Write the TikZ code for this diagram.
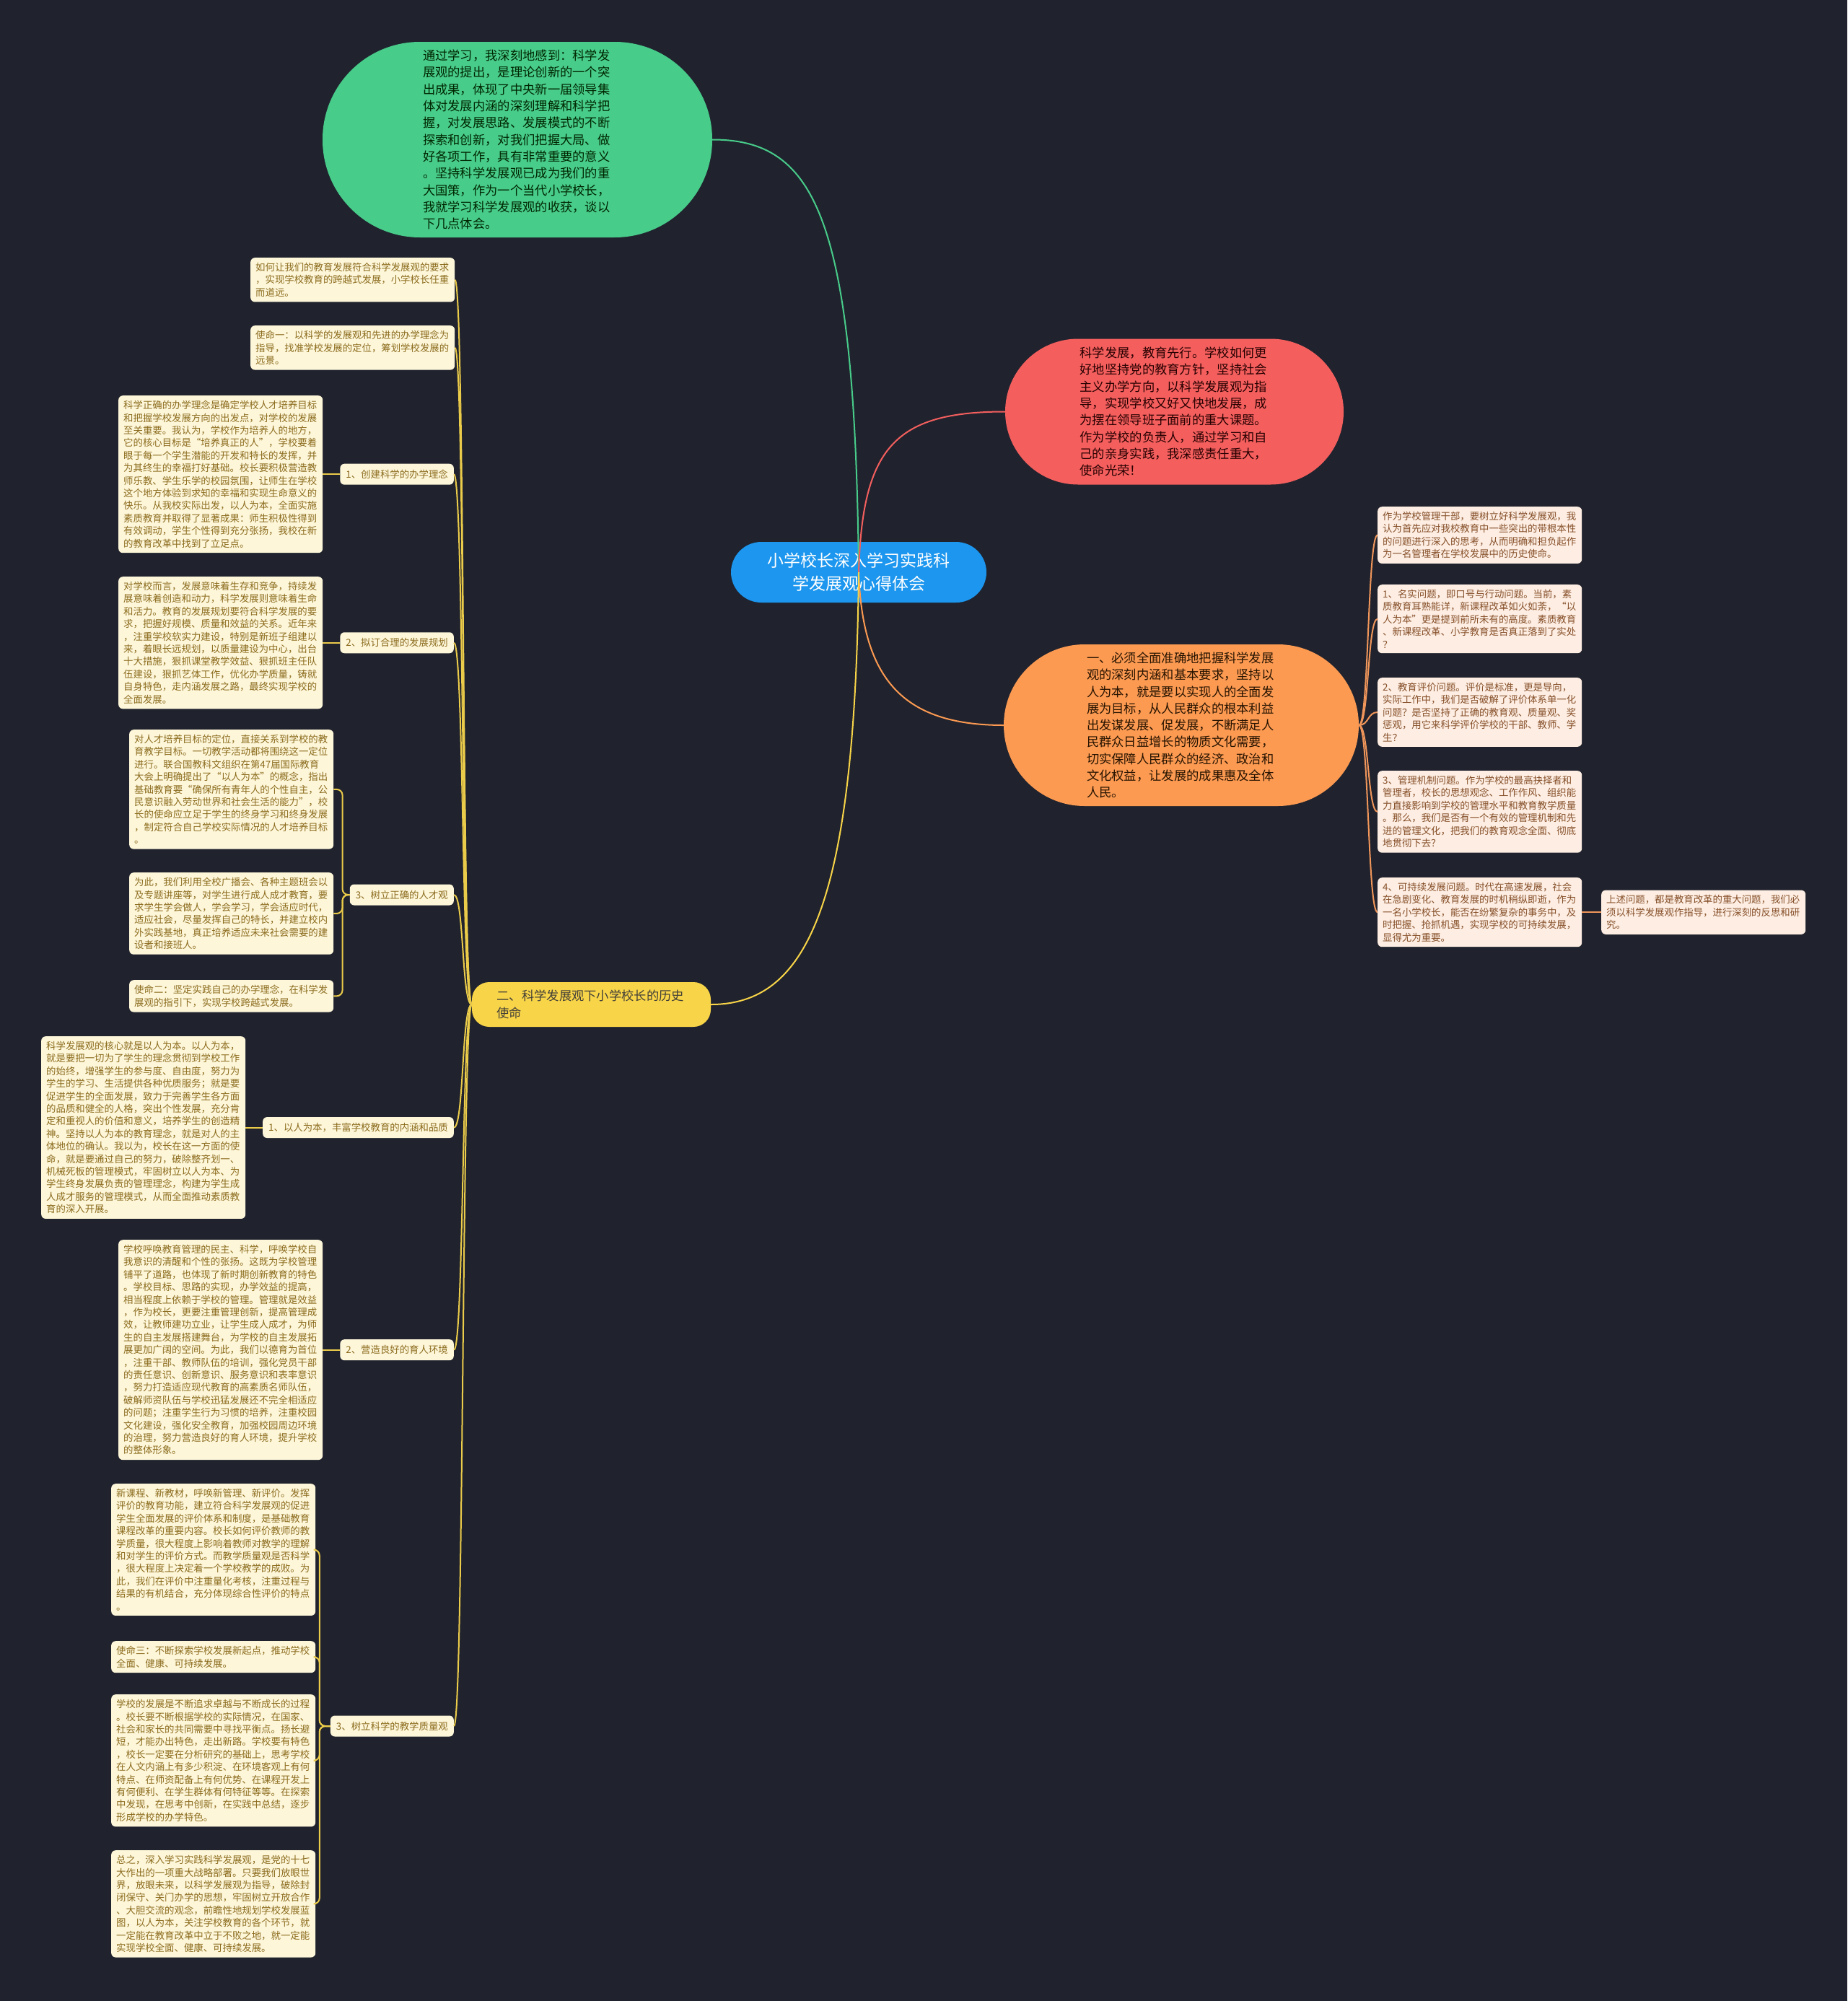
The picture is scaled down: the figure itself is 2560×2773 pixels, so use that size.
\documentclass[tikz,border=0pt]{standalone}
\usepackage{fontspec}
\setmainfont{Noto Sans CJK SC}
\newcommand\myfs[2]{\fontsize{#1pt}{#2pt}\selectfont}
\definecolor{bg}{HTML}{20232E}
\definecolor{cgreen}{HTML}{48CC8A}
\definecolor{cred}{HTML}{F45F5E}
\definecolor{corange}{HTML}{FC9A52}
\definecolor{cblue}{HTML}{1C96EE}
\definecolor{cyellow}{HTML}{F8D448}
\definecolor{lfill}{HTML}{FDF6D9}
\definecolor{ltext}{HTML}{8C6C1E}
\definecolor{rfill}{HTML}{FDEDE2}
\definecolor{rtext}{HTML}{86502A}
\definecolor{lline}{HTML}{EBCB4A}
\definecolor{rline}{HTML}{F0965A}
\tikzset{
  pill/.style={inner sep=0pt, text width=262pt, align=left, font=\myfs{17.3}{23.3}},
  lbox/.style={fill=lfill, rounded corners=6pt, text=ltext, inner xsep=7pt, inner ysep=7pt,
    text width=269pt, align=left, font=\myfs{13.4}{17.4}, anchor=north west},
  rbox/.style={lbox, fill=rfill, text=rtext},
  labbox/.style={fill=lfill, rounded corners=6pt, text=ltext, inner xsep=8pt, inner ysep=0pt,
    minimum height=29pt, font=\myfs{13.4}{17.4}, anchor=east},
  mainline/.style={line width=2pt},
  yl/.style={draw=lline, line width=2pt},
  rl/.style={draw=rline, line width=2pt},
}
\begin{document}
\begin{tikzpicture}[x=1pt,y=-1pt]
\useasboundingbox (0,0) rectangle (2560,2773);
\fill[bg] (0,0) rectangle (2560,2773);

% main pills
\node[pill, fill=cgreen, text=black!85!green, rounded corners=135pt, minimum width=540pt, minimum height=271pt] (green) at (717,193.5) {通过学习，我深刻地感到：科学发\\展观的提出，是理论创新的一个突\\出成果，体现了中央新一届领导集\\体对发展内涵的深刻理解和科学把\\握，对发展思路、发展模式的不断\\探索和创新，对我们把握大局、做\\好各项工作，具有非常重要的意义\\。坚持科学发展观已成为我们的重\\大国策，作为一个当代小学校长，\\我就学习科学发展观的收获，谈以\\下几点体会。};

\node[pill, fill=cred, text=black!85!red, rounded corners=101pt, minimum width=469pt, minimum height=202pt] (red) at (1627.5,570.5) {科学发展，教育先行。学校如何更\\好地坚持党的教育方针，坚持社会\\主义办学方向，以科学发展观为指\\导，实现学校又好又快地发展，成\\为摆在领导班子面前的重大课题。\\作为学校的负责人，通过学习和自\\己的亲身实践，我深感责任重大，\\使命光荣！};

\node[pill, fill=corange, text=black!85!orange, rounded corners=112pt, minimum width=492pt, minimum height=224pt] (orange) at (1637,1005) {一、必须全面准确地把握科学发展\\观的深刻内涵和基本要求，坚持以\\人为本，就是要以实现人的全面发\\展为目标，从人民群众的根本利益\\出发谋发展、促发展，不断满足人\\民群众日益增长的物质文化需要，\\切实保障人民群众的经济、政治和\\文化权益，让发展的成果惠及全体\\人民。};

\node[pill, fill=cyellow, text=black!85!yellow, rounded corners=24pt, minimum width=331pt, minimum height=62pt] (two) at (819.5,1392) {二、科学发展观下小学校长的历史\\使命};

\node[fill=cblue, text=white, rounded corners=42pt, minimum width=354pt, minimum height=84pt, inner sep=0pt, align=center, font=\myfs{23}{32}] (center) at (1190,793) {小学校长深入学习实践科\\学发展观心得体会};

% right boxes
\node[rbox] (R1) at (1909,702) {作为学校管理干部，要树立好科学发展观，我\\认为首先应对我校教育中一些突出的带根本性\\的问题进行深入的思考，从而明确和担负起作\\为一名管理者在学校发展中的历史使命。};
\node[rbox] (R2) at (1909,810) {1、名实问题，即口号与行动问题。当前，素\\质教育耳熟能详，新课程改革如火如荼，“以\\人为本”更是提到前所未有的高度。素质教育\\、新课程改革、小学教育是否真正落到了实处\\？};
\node[rbox] (R3) at (1909,939) {2、教育评价问题。评价是标准，更是导向，\\实际工作中，我们是否破解了评价体系单一化\\问题？是否坚持了正确的教育观、质量观、奖\\惩观，用它来科学评价学校的干部、教师、学\\生？};
\node[rbox] (R4) at (1909,1068) {3、管理机制问题。作为学校的最高抉择者和\\管理者，校长的思想观念、工作作风、组织能\\力直接影响到学校的管理水平和教育教学质量\\。那么，我们是否有一个有效的管理机制和先\\进的管理文化，把我们的教育观念全面、彻底\\地贯彻下去？};
\node[rbox] (R5) at (1909,1216) {4、可持续发展问题。时代在高速发展，社会\\在急剧变化、教育发展的时机稍纵即逝，作为\\一名小学校长，能否在纷繁复杂的事务中，及\\时把握、抢抓机遇，实现学校的可持续发展，\\显得尤为重要。};
\coordinate (xrr) at (2219,0);
\node[rbox, anchor=west] (R6) at (xrr |- R5.east) {上述问题，都是教育改革的重大问题，我们必\\须以科学发展观作指导，进行深刻的反思和研\\究。};

% left boxes
\node[lbox] (L0) at (347,357) {如何让我们的教育发展符合科学发展观的要求\\，实现学校教育的跨越式发展，小学校长任重\\而道远。};
\node[lbox] (L1) at (347,451) {使命一：以科学的发展观和先进的办学理念为\\指导，找准学校发展的定位，筹划学校发展的\\远景。};
\node[lbox] (L2) at (164,548) {科学正确的办学理念是确定学校人才培养目标\\和把握学校发展方向的出发点，对学校的发展\\至关重要。我认为，学校作为培养人的地方，\\它的核心目标是“培养真正的人”，学校要着\\眼于每一个学生潜能的开发和特长的发挥，并\\为其终生的幸福打好基础。校长要积极营造教\\师乐教、学生乐学的校园氛围，让师生在学校\\这个地方体验到求知的幸福和实现生命意义的\\快乐。从我校实际出发，以人为本，全面实施\\素质教育并取得了显著成果：师生积极性得到\\有效调动，学生个性得到充分张扬，我校在新\\的教育改革中找到了立足点。};
\node[lbox] (L3) at (164,799) {对学校而言，发展意味着生存和竞争，持续发\\展意味着创造和动力，科学发展则意味着生命\\和活力。教育的发展规划要符合科学发展的要\\求，把握好规模、质量和效益的关系。近年来\\，注重学校软实力建设，特别是新班子组建以\\来，着眼长远规划，以质量建设为中心，出台\\十大措施，狠抓课堂教学效益、狠抓班主任队\\伍建设，狠抓艺体工作，优化办学质量，铸就\\自身特色，走内涵发展之路，最终实现学校的\\全面发展。};
\node[lbox] (L4) at (179,1011) {对人才培养目标的定位，直接关系到学校的教\\育教学目标。一切教学活动都将围绕这一定位\\进行。联合国教科文组织在第47届国际教育\\大会上明确提出了“以人为本”的概念，指出\\基础教育要“确保所有青年人的个性自主，公\\民意识融入劳动世界和社会生活的能力”，校\\长的使命应立足于学生的终身学习和终身发展\\，制定符合自己学校实际情况的人才培养目标\\。};
\node[lbox] (L5) at (179,1209) {为此，我们利用全校广播会、各种主题班会以\\及专题讲座等，对学生进行成人成才教育，要\\求学生学会做人，学会学习，学会适应时代，\\适应社会，尽量发挥自己的特长，并建立校内\\外实践基地，真正培养适应未来社会需要的建\\设者和接班人。};
\node[lbox] (L6) at (179,1358) {使命二：坚定实践自己的办学理念，在科学发\\展观的指引下，实现学校跨越式发展。};
\node[lbox] (L7) at (57,1436) {科学发展观的核心就是以人为本。以人为本，\\就是要把一切为了学生的理念贯彻到学校工作\\的始终，增强学生的参与度、自由度，努力为\\学生的学习、生活提供各种优质服务；就是要\\促进学生的全面发展，致力于完善学生各方面\\的品质和健全的人格，突出个性发展，充分肯\\定和重视人的价值和意义，培养学生的创造精\\神。坚持以人为本的教育理念，就是对人的主\\体地位的确认。我以为，校长在这一方面的使\\命，就是要通过自己的努力，破除整齐划一、\\机械死板的管理模式，牢固树立以人为本、为\\学生终身发展负责的管理理念，构建为学生成\\人成才服务的管理模式，从而全面推动素质教\\育的深入开展。};
\node[lbox] (L8) at (164,1718) {学校呼唤教育管理的民主、科学，呼唤学校自\\我意识的清醒和个性的张扬。这既为学校管理\\铺平了道路，也体现了新时期创新教育的特色\\。学校目标、思路的实现，办学效益的提高，\\相当程度上依赖于学校的管理。管理就是效益\\，作为校长，更要注重管理创新，提高管理成\\效，让教师建功立业，让学生成人成才，为师\\生的自主发展搭建舞台，为学校的自主发展拓\\展更加广阔的空间。为此，我们以德育为首位\\，注重干部、教师队伍的培训，强化党员干部\\的责任意识、创新意识、服务意识和表率意识\\，努力打造适应现代教育的高素质名师队伍，\\破解师资队伍与学校迅猛发展还不完全相适应\\的问题；注重学生行为习惯的培养，注重校园\\文化建设，强化安全教育，加强校园周边环境\\的治理，努力营造良好的育人环境，提升学校\\的整体形象。};
\node[lbox] (L9) at (154,2056) {新课程、新教材，呼唤新管理、新评价。发挥\\评价的教育功能，建立符合科学发展观的促进\\学生全面发展的评价体系和制度，是基础教育\\课程改革的重要内容。校长如何评价教师的教\\学质量，很大程度上影响着教师对教学的理解\\和对学生的评价方式。而教学质量观是否科学\\，很大程度上决定着一个学校教学的成败。为\\此，我们在评价中注重量化考核，注重过程与\\结果的有机结合，充分体现综合性评价的特点\\。};
\node[lbox] (L10) at (154,2274) {使命三：不断探索学校发展新起点，推动学校\\全面、健康、可持续发展。};
\node[lbox] (L11) at (154,2348) {学校的发展是不断追求卓越与不断成长的过程\\。校长要不断根据学校的实际情况，在国家、\\社会和家长的共同需要中寻找平衡点。扬长避\\短，才能办出特色，走出新路。学校要有特色\\，校长一定要在分析研究的基础上，思考学校\\在人文内涵上有多少积淀、在环境客观上有何\\特点、在师资配备上有何优势、在课程开发上\\有何便利、在学生群体有何特征等等。在探索\\中发现，在思考中创新，在实践中总结，逐步\\形成学校的办学特色。};
\node[lbox] (L12) at (154,2564) {总之，深入学习实践科学发展观，是党的十七\\大作出的一项重大战略部署。只要我们放眼世\\界，放眼未来，以科学发展观为指导，破除封\\闭保守、关门办学的思想，牢固树立开放合作\\、大胆交流的观念，前瞻性地规划学校发展蓝\\图，以人为本，关注学校教育的各个环节，就\\一定能在教育改革中立于不败之地，就一定能\\实现学校全面、健康、可持续发展。};

% labels
\coordinate (xr) at (629,0);
\node[labbox] (labA) at (xr |- L2.east) {1、创建科学的办学理念};
\node[labbox] (labB) at (xr |- L3.east) {2、拟订合理的发展规划};
\node[labbox] (labC) at (629,1240) {3、树立正确的人才观};
\node[labbox] (labD) at (xr |- L7.east) {1、以人为本，丰富学校教育的内涵和品质};
\node[labbox] (labE) at (xr |- L8.east) {2、营造良好的育人环境};
\node[labbox] (labF) at (629,2392) {3、树立科学的教学质量观};

% connectors: left level
\foreach \c in {L0,L1,labA,labB,labC,labD,labE,labF}
  \draw[yl] (two.west) .. controls +(-14,0) and +(14,0) .. (\c.east);
\draw[yl] (labA.west) -- (L2.east);
\draw[yl] (labB.west) -- (L3.east);
\draw[yl] (labD.west) -- (L7.east);
\draw[yl] (labE.west) -- (L8.east);
\foreach \c in {L4,L5,L6}
  \draw[yl, rounded corners=8pt] (labC.west) -- ++(-10,0) |- (\c.east);
\foreach \c in {L9,L10,L11,L12}
  \draw[yl, rounded corners=8pt] (labF.west) -- ++(-15,0) |- (\c.east);

% connectors: right level
\foreach \c in {R1,R2,R3,R4,R5}
  \draw[rl] (orange.east) .. controls +(14,0) and +(-14,0) .. (\c.west);
\draw[rl] (R5.east) -- (R6.west);

% main connectors
\draw[mainline, draw=cgreen] (center.center) .. controls (1185,300) and (1130,193.5) .. (green.east);
\draw[mainline, draw=cred] (center.center) .. controls (1195,620) and (1240,570.5) .. (red.west);
\draw[mainline, draw=corange] (center.center) .. controls (1195,940) and (1250,1005) .. (orange.west);
\draw[mainline, draw=cyellow] (center.center) .. controls (1185,1250) and (1120,1392) .. (two.east);
\end{tikzpicture}
\end{document}
